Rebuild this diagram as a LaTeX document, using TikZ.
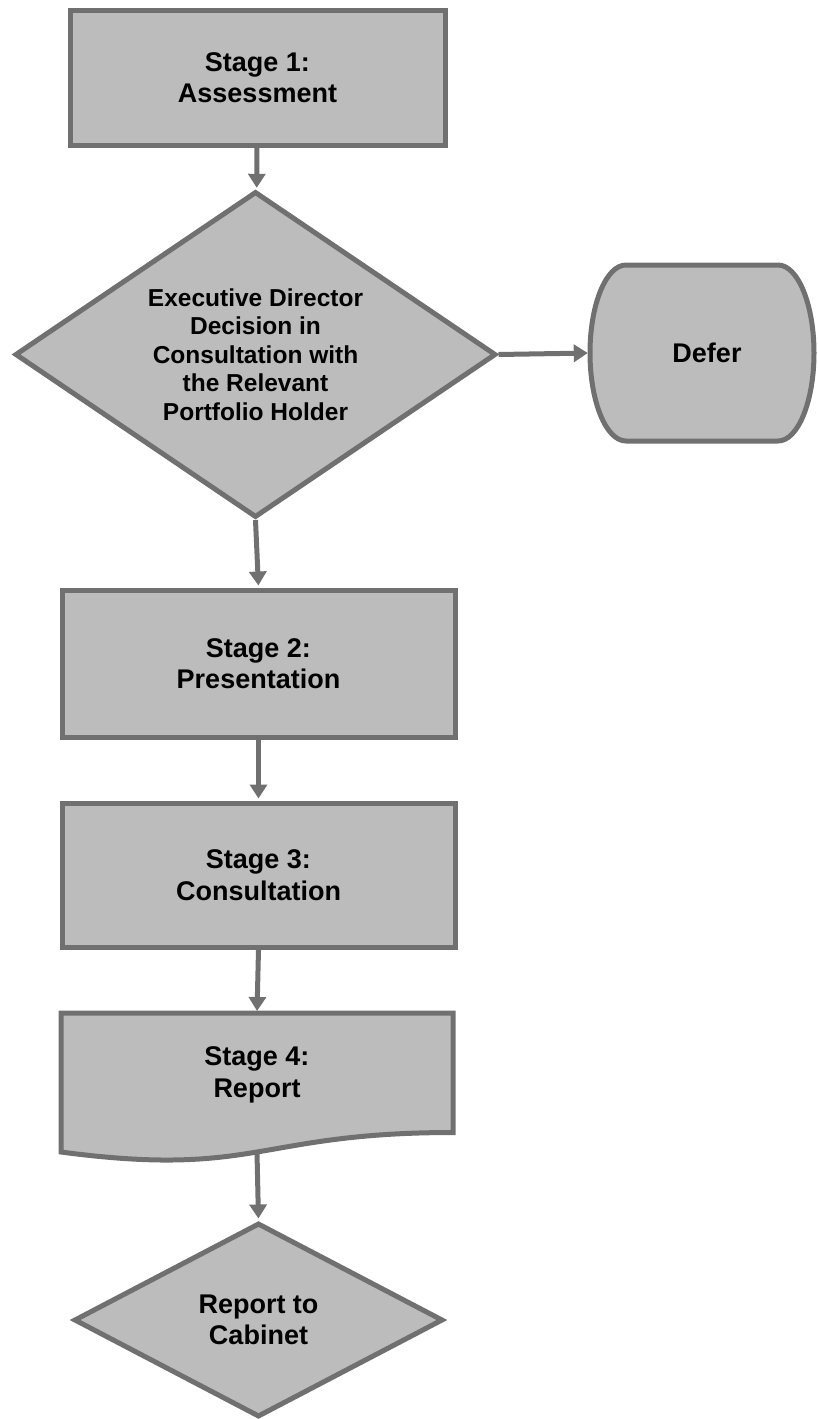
\documentclass[tikz,border=0pt]{standalone}
\usepackage{fontspec}
\setmainfont{Liberation Sans}
\usepackage{xcolor}
\usetikzlibrary{arrows.meta,shapes.geometric}

\definecolor{boxfill}{HTML}{BCBCBC}
\definecolor{boxline}{HTML}{707070}

\begin{document}
\begin{tikzpicture}[x=1pt, y=1pt,
		shapeline/.style={draw=boxline, fill=boxfill, line width=5pt, line join=miter},
		stagebox/.style={shapeline, rectangle, inner sep=0pt, align=center, font=\fontsize{27}{31.5}\selectfont\bfseries},
		decision/.style={shapeline, diamond, inner sep=0pt, align=center, font=\fontsize{27}{31.5}\selectfont\bfseries},
		plaintext/.style={inner sep=0pt, align=center, font=\fontsize{27}{31.5}\selectfont\bfseries},
		flow/.style={draw=boxline, line width=5pt, shorten >=2pt, -{Triangle[width=17pt, length=14pt]}}]
		\useasboundingbox (0, 0) rectangle (817, -1419);

		\node[stagebox, minimum width=375pt, minimum height=135pt] (stage1) at (257.5, -77.5) {Stage 1:\\Assessment};
		\node[decision, aspect=1.5, minimum width=481pt, minimum height=326pt, font=\fontsize{24.5}{28.5}\selectfont\bfseries] (decide) at (255.5, -354.5)
			{Executive Director\\Decision in\\Consultation with\\the Relevant\\Portfolio Holder};

		% defer terminator
		\draw[shapeline] (626, -265) -- (778, -265) arc[start angle=90, end angle=-90, x radius=36pt, y radius=88pt]
			-- (626, -441) arc[start angle=270, end angle=90, x radius=36pt, y radius=88pt] -- cycle;
		\node[plaintext, minimum width=224pt, minimum height=176pt] (defer) at (702, -353) {\hspace{10pt}Defer};

		\node[stagebox, minimum width=393pt, minimum height=147pt] (stage2) at (258.5, -663.5) {Stage 2:\\Presentation};
		\node[stagebox, minimum width=393pt, minimum height=144pt] (stage3) at (258.5, -875) {Stage 3:\\Consultation};

		% stage 4 document shape
		\draw[shapeline] (61, -1013) -- (453, -1013) -- (453, -1132.5)
			.. controls (257, -1132.5) and (257, -1178) .. (61, -1152) -- cycle;
		\node[plaintext] (stage4) at (257, -1075) {Stage 4:\\Report};
		\coordinate (s4in) at (257, -1013);
		\coordinate (s4out) at (257, -1152);

		\node[decision, aspect=1.9, minimum width=369pt, minimum height=194pt] (cabinet) at (258.5, -1320) {Report to\\Cabinet};

		\draw[flow] (stage1) -- (decide);
		\draw[flow] (decide.east) -- (defer.west);
		\draw[flow] (decide.south) -- (stage2.north);
		\draw[flow] (stage2) -- (stage3);
		\draw[flow] (stage3.south) -- (s4in);
		\draw[flow] (s4out) -- (cabinet.north);
	\end{tikzpicture}
\end{document}
